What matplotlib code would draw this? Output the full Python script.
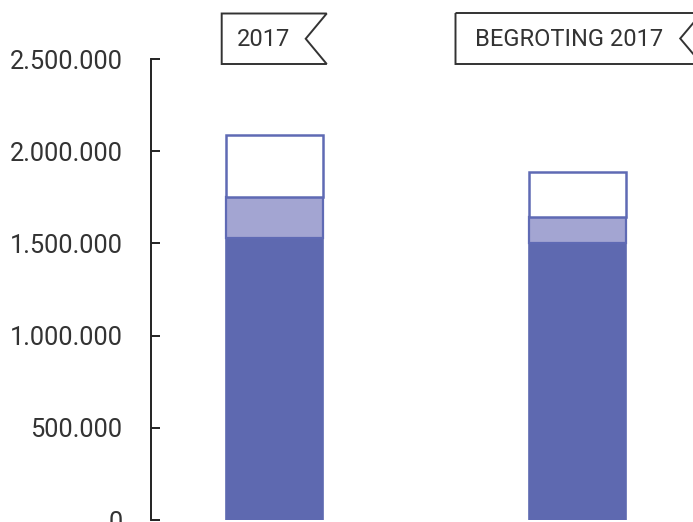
import matplotlib
matplotlib.use("Agg")
import matplotlib.pyplot as plt
from matplotlib.patches import Polygon
from matplotlib.ticker import FuncFormatter

# stacked segments per bar
categories = ["2017", "BEGROTING 2017"]
dark_vals = [1527000, 1504000]
light_vals = [226000, 141000]
open_vals = [335000, 244000]
yticks = [0, 500000, 1000000, 1500000, 2000000, 2500000]

DARK, LIGHT, EDGE, INK = "#5e69b0", "#a3a5d2", "#5f6ab4", "#222222"
plt.rcParams["font.family"] = ["Roboto", "DejaVu Sans"]

W, H = 693, 522
fig = plt.figure(figsize=(W / 100, H / 100), dpi=100)
ax = fig.add_axes([151 / W, 2 / H, (W - 151) / W, (520 - 59) / H])

x = [0, 1]
bw = 0.32
ax.bar(x, dark_vals, bw, color=DARK, edgecolor=DARK, lw=1.2)
bottom2 = dark_vals
ax.bar(x, light_vals, bw, bottom=bottom2, color=LIGHT, edgecolor=EDGE, lw=1.6)
bottom3 = [a + b for a, b in zip(dark_vals, light_vals)]
ax.bar(x, open_vals, bw, bottom=bottom3, color="white", edgecolor=EDGE, lw=1.8)

ax.set_xlim(-0.409, 1.38)
ax.set_ylim(0, 2500000)
ax.set_yticks(yticks)
ax.yaxis.set_major_formatter(FuncFormatter(lambda v, p: f"{int(v):,}".replace(",", ".")))
ax.tick_params(axis="y", direction="in", length=6.5, width=1.4, color=INK,
               labelsize=18.3, labelcolor="#333333", pad=20.5)
ax.tick_params(axis="x", bottom=False, labelbottom=False)
for s in ["top", "right", "bottom"]:
    ax.spines[s].set_visible(False)
ax.spines["left"].set_color(INK)
ax.spines["left"].set_linewidth(1.4)
for lab in ax.get_yticklabels():
    lab.set_clip_on(False)


# flag-shaped headers above the bars (figure pixel coords)
def flag(x0, x1, notch, y0, y1, text, tx):
    pts = [(x0, y0), (x1, y0), (x1 - notch, (y0 + y1) / 2), (x1, y1), (x0, y1)]
    pts = [(px / W, 1 - py / H) for px, py in pts]
    fig.patches.append(Polygon(pts, closed=True, fill=False, ec="#333333", lw=1.4,
                               transform=fig.transFigure, clip_on=False))
    fig.text(tx / W, 1 - 39 / H, text, ha="center", va="center", fontsize=17, color="#333333")


flag(221.7, 326.7, 21, 13.5, 64, categories[0], 263)
flag(455.5, 701.7, 21.5, 13, 64, categories[1], 569)

fig.savefig("out.png", dpi=100)
